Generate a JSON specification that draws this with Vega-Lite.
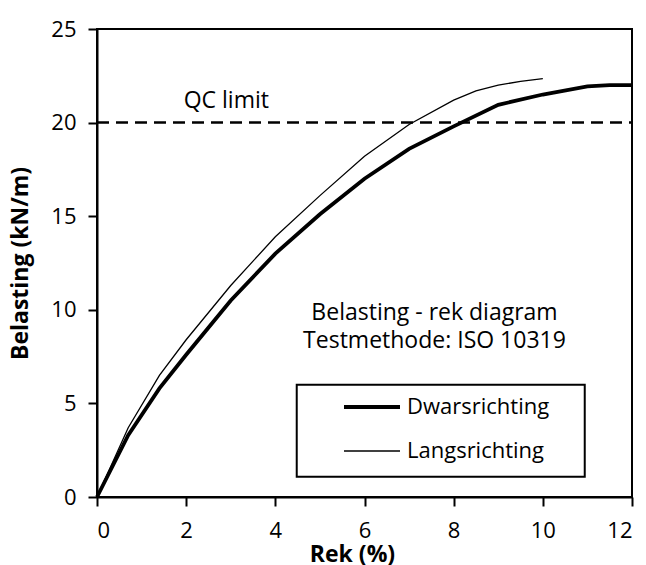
{
  "$schema": "https://vega.github.io/schema/vega-lite/v6.json",
  "width": 535,
  "height": 468,
  "autosize": {"type": "none"},
  "padding": {"left": 97, "top": 29, "right": 14, "bottom": 68},
  "background": "white",
  "config": {
    "font": "Open Sans",
    "view": {"stroke": "black", "strokeWidth": 2},
    "axis": {
      "domainColor": "black", "domainWidth": 2, "tickColor": "black", "tickWidth": 2, "tickSize": 9,
      "labelColor": "black", "labelFontSize": 22, "labelFont": "Open Sans", "grid": false,
      "titleColor": "black", "titleFont": "Open Sans", "titleFontSize": 23, "titleFontWeight": "bold"
    }
  },
  "datasets": {
    "curves": [
      {"rek": 0, "belasting": 0, "serie": "Dwarsrichting"},
      {"rek": 0.7, "belasting": 3.3, "serie": "Dwarsrichting"},
      {"rek": 1.4, "belasting": 5.8, "serie": "Dwarsrichting"},
      {"rek": 2, "belasting": 7.6, "serie": "Dwarsrichting"},
      {"rek": 3, "belasting": 10.5, "serie": "Dwarsrichting"},
      {"rek": 4, "belasting": 13.0, "serie": "Dwarsrichting"},
      {"rek": 5, "belasting": 15.1, "serie": "Dwarsrichting"},
      {"rek": 6, "belasting": 17.0, "serie": "Dwarsrichting"},
      {"rek": 7, "belasting": 18.6, "serie": "Dwarsrichting"},
      {"rek": 8, "belasting": 19.8, "serie": "Dwarsrichting"},
      {"rek": 9, "belasting": 20.95, "serie": "Dwarsrichting"},
      {"rek": 10, "belasting": 21.5, "serie": "Dwarsrichting"},
      {"rek": 11, "belasting": 21.93, "serie": "Dwarsrichting"},
      {"rek": 11.5, "belasting": 22.0, "serie": "Dwarsrichting"},
      {"rek": 12, "belasting": 22.0, "serie": "Dwarsrichting"},
      {"rek": 0, "belasting": 0, "serie": "Langsrichting"},
      {"rek": 0.7, "belasting": 3.7, "serie": "Langsrichting"},
      {"rek": 1.4, "belasting": 6.5, "serie": "Langsrichting"},
      {"rek": 2, "belasting": 8.4, "serie": "Langsrichting"},
      {"rek": 3, "belasting": 11.3, "serie": "Langsrichting"},
      {"rek": 4, "belasting": 13.9, "serie": "Langsrichting"},
      {"rek": 5, "belasting": 16.1, "serie": "Langsrichting"},
      {"rek": 6, "belasting": 18.2, "serie": "Langsrichting"},
      {"rek": 7, "belasting": 19.9, "serie": "Langsrichting"},
      {"rek": 8, "belasting": 21.2, "serie": "Langsrichting"},
      {"rek": 8.5, "belasting": 21.7, "serie": "Langsrichting"},
      {"rek": 9, "belasting": 22.0, "serie": "Langsrichting"},
      {"rek": 9.5, "belasting": 22.2, "serie": "Langsrichting"},
      {"rek": 10, "belasting": 22.35, "serie": "Langsrichting"}
    ],
    "limit": [{"rek": 0, "belasting": 20}, {"rek": 12, "belasting": 20}],
    "legendbox": [{"x1": 4.48, "x2": 10.94, "y1": 1.08, "y2": 6.0}],
    "notes": [
      {"rek": 2.9, "belasting": 20.78, "label": "QC limit"},
      {"rek": 7.57, "belasting": 9.46, "label": "Belasting - rek diagram"},
      {"rek": 7.57, "belasting": 7.96, "label": "Testmethode: ISO 10319"}
    ]
  },
  "layer": [
    {
      "data": {"name": "limit"},
      "mark": {"type": "line", "color": "black", "strokeWidth": 2.5, "strokeDash": [12, 7]},
      "encoding": {
        "x": {"field": "rek", "type": "quantitative", "scale": {"domain": [0, 12], "nice": false}, "axis": {"values": [0, 2, 4, 6, 8, 10, 12], "title": "Rek (%)", "titlePadding": 2, "labelPadding": 14, "titleX": 255}},
        "y": {"field": "belasting", "type": "quantitative", "scale": {"domain": [0, 25], "nice": false}, "axis": {"values": [0, 5, 10, 15, 20, 25], "title": "Belasting (kN/m)", "titlePadding": 18, "labelPadding": 12}}
      }
    },
    {
      "data": {"name": "legendbox"},
      "mark": {"type": "rect", "fill": "white", "stroke": "black", "strokeWidth": 2},
      "encoding": {
        "x": {"field": "x1", "type": "quantitative"},
        "x2": {"field": "x2"},
        "y": {"field": "y1", "type": "quantitative"},
        "y2": {"field": "y2"}
      }
    },
    {
      "data": {"name": "curves"},
      "mark": {"type": "line", "color": "black"},
      "encoding": {
        "x": {"field": "rek", "type": "quantitative"},
        "y": {"field": "belasting", "type": "quantitative"},
        "detail": {"field": "serie"},
        "strokeWidth": {
          "field": "serie", "type": "nominal",
          "scale": {"domain": ["Dwarsrichting", "Langsrichting"], "range": [3.8, 1.3]},
          "legend": {
            "title": null, "orient": "none", "legendX": 245, "legendY": 348,
            "padding": 0,
            "symbolType": "stroke", "symbolSize": 3136, "symbolStrokeColor": "black",
            "labelFontSize": 22, "labelColor": "black", "labelFont": "Open Sans",
            "rowPadding": 4, "labelOffset": 5
          }
        }
      }
    },
    {
      "data": {"name": "notes"},
      "mark": {"type": "text", "fontSize": 23, "color": "black", "align": "center", "baseline": "alphabetic", "font": "Open Sans"},
      "encoding": {
        "x": {"field": "rek", "type": "quantitative"},
        "y": {"field": "belasting", "type": "quantitative"},
        "text": {"field": "label"}
      }
    }
  ]
}
